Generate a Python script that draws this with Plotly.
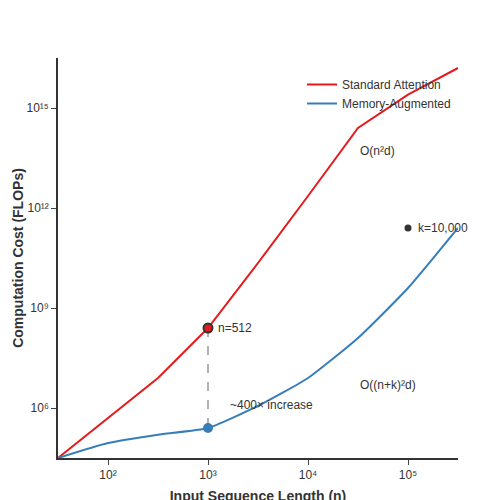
import math
import plotly.graph_objects as go

seq_len = [10**1.5, 10**2, 10**2.5, 10**3, 10**3.5, 10**4, 10**4.5, 10**5, 10**5.5]
std_flops = [10**4.5, 10**5.7, 10**6.9, 10**8.4, 10**10.35, 10**12.36, 10**14.4, 10**15.4, 10**16.2]
mem_flops = [10**4.5, 10**4.95, 10**5.2, 10**5.4, 10**6.06, 10**6.9, 10**8.1, 10**9.6, 10**11.4]
x_ticks = [100, 1000, 10000, 100000]
x_labels = ["10²", "10³", "10⁴", "10⁵"]
y_ticks = [1e6, 1e9, 1e12, 1e15]
y_labels = ["10⁶", "10⁹", "10¹²", "10¹⁵"]

red = "#e41a1c"
blue = "#377eb8"

fig = go.Figure()
fig.add_trace(go.Scatter(x=seq_len, y=std_flops, mode="lines", name="Standard Attention",
                         line=dict(color=red, width=2)))
fig.add_trace(go.Scatter(x=seq_len, y=mem_flops, mode="lines", name="Memory-Augmented",
                         line=dict(color=blue, width=2, shape="spline", smoothing=0.5)))
fig.add_trace(go.Scatter(x=[1000, 1000], y=[std_flops[3], mem_flops[3]], mode="lines",
                         line=dict(color="#999", width=1.5, dash="dash"), showlegend=False))
fig.add_trace(go.Scatter(x=[1000], y=[std_flops[3]], mode="markers", showlegend=False,
                         marker=dict(color=red, size=9, line=dict(color="#333", width=2))))
fig.add_trace(go.Scatter(x=[1000], y=[mem_flops[3]], mode="markers", showlegend=False,
                         marker=dict(color=blue, size=10)))
fig.add_trace(go.Scatter(x=[100000], y=[mem_flops[8]], mode="markers", showlegend=False,
                         marker=dict(color="#333", size=7)))

notes = [(1000, std_flops[3], "n=512", 8), (10**4.5, 10**13.7, "O(n²d)", 0),
         (10**4.5, 10**6.7, "O((n+k)²d)", 0), (10**3.2, 10**6.1, "~400× increase", 0),
         (100000, mem_flops[8], "k=10,000", 8)]
for x, y, t, dx in notes:
    # log axes: annotation positions are given in log10 units
    fig.add_annotation(x=math.log10(x), y=math.log10(y), text=t, showarrow=False,
                       xanchor="left", xshift=dx, font=dict(size=12, color="#333"))

fig.update_layout(
    width=500, height=500, plot_bgcolor="white", paper_bgcolor="white",
    margin=dict(l=50, r=50, t=50, b=50, autoexpand=False),
    font=dict(family="Liberation Sans", color="#333", size=12),
    legend=dict(x=0.61, y=0.97, xanchor="left", yanchor="top", font=dict(size=12),
                bgcolor="rgba(0,0,0,0)"),
)
fig.update_xaxes(type="log", range=[1.5, 5.5], tickvals=x_ticks, ticktext=x_labels, automargin=False,
                 showline=True, linecolor="#333", linewidth=1.5, ticks="outside", showgrid=False,
                 zeroline=False, title=dict(text="<b>Input Sequence Length (n)</b>", font=dict(size=14), standoff=10))
fig.update_yaxes(type="log", range=[4.5, 16.5], tickvals=y_ticks, ticktext=y_labels, automargin=False,
                 showline=True, linecolor="#333", linewidth=1.5, ticks="outside", showgrid=False,
                 zeroline=False, title=dict(text="<b>Computation Cost (FLOPs)</b>", font=dict(size=14), standoff=0))
fig.write_html("out.html")
